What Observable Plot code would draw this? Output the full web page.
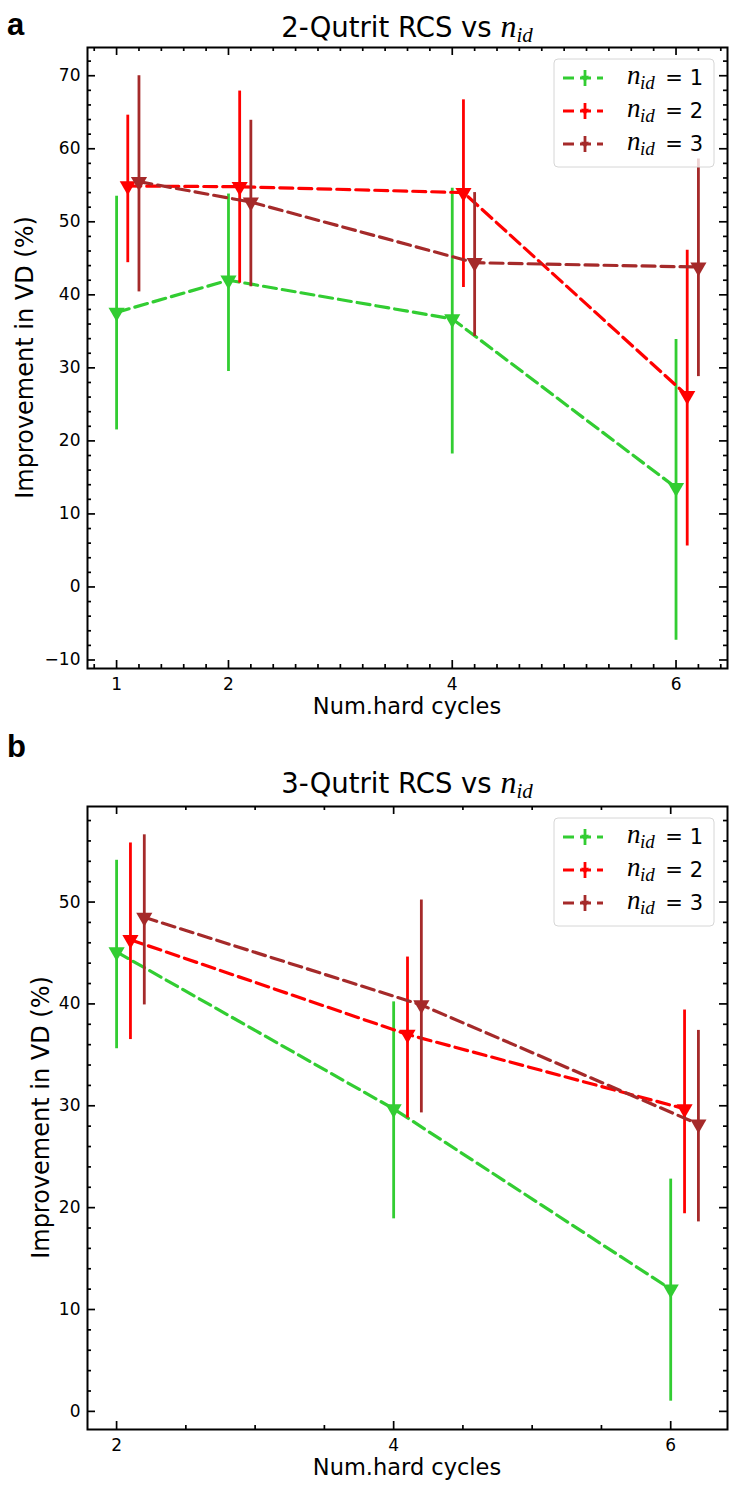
<!DOCTYPE html>
<html><head><meta charset="utf-8">
<script src="https://cdn.jsdelivr.net/npm/d3@7"></script>
<script src="https://cdn.jsdelivr.net/npm/@observablehq/plot@0.6"></script>
<style>
body{margin:0;background:#fff}
#wrap{position:relative;width:749px;height:1487px;overflow:hidden;background:#fff}
.panel{position:absolute;left:0}
#overlay{position:absolute;left:0;top:0;pointer-events:none}
</style>
</head><body><div id="wrap"></div>
<script>
// ---------- data ----------
const seriesIds = [1, 2, 3];
const seriesColors = ["#32cd32", "#ff0000", "#a52a2a"];

// Panel a: 2-Qutrit RCS
const aX1 = [1, 2, 4, 6];
const aX2 = [1.1, 2.1, 4.1, 6.1];
const aX3 = [1.2, 2.2, 4.2, 6.2];
const aY1 = [37.6, 42.0, 36.7, 13.6];
const aLo1 = [21.5, 29.5, 18.2, -7.3];
const aHi1 = [53.5, 53.8, 54.6, 33.9];
const aY2 = [54.9, 54.8, 54.0, 26.2];
const aLo2 = [44.4, 41.6, 41.0, 5.6];
const aHi2 = [64.6, 67.9, 66.7, 46.1];
const aY3 = [55.5, 52.7, 44.4, 43.8];
const aLo3 = [40.4, 41.1, 34.3, 28.8];
const aHi3 = [70.0, 63.9, 54.0, 58.6];

// Panel b: 3-Qutrit RCS
const bX1 = [2, 4, 6];
const bX2 = [2.1, 4.1, 6.1];
const bX3 = [2.2, 4.2, 6.2];
const bY1 = [45.1, 29.7, 12.0];
const bLo1 = [35.6, 18.9, 1.0];
const bHi1 = [54.1, 40.2, 22.8];
const bY2 = [46.3, 37.0, 29.7];
const bLo2 = [36.5, 28.8, 19.4];
const bHi2 = [55.8, 44.6, 39.4];
const bY3 = [48.5, 39.9, 28.2];
const bLo3 = [39.9, 29.3, 18.6];
const bHi3 = [56.6, 50.2, 37.4];

// tick labels
const aXTicks = [1, 2, 4, 6];
const aYTicks = [-10, 0, 10, 20, 30, 40, 50, 60, 70];
const bXTicks = [2, 4, 6];
const bYTicks = [0, 10, 20, 30, 40, 50];

const titleA = "2-Qutrit RCS vs ";
const titleB = "3-Qutrit RCS vs ";
const xLabel = "Num.hard cycles";
const yLabel = "Improvement in VD (%)";

// ---------- helpers ----------
function rows(xs, ys, los, his, s) {
  return xs.map((x, i) => ({x, y: ys[i], lo: los[i], hi: his[i], s}));
}
const dataA = [
  ...rows(aX1, aY1, aLo1, aHi1, 1),
  ...rows(aX2, aY2, aLo2, aHi2, 2),
  ...rows(aX3, aY3, aLo3, aHi3, 3)
];
const dataB = [
  ...rows(bX1, bY1, bLo1, bHi1, 1),
  ...rows(bX2, bY2, bLo2, bHi2, 2),
  ...rows(bX3, bY3, bLo3, bHi3, 3)
];
function padded(lo, hi) { const r = hi - lo; return [lo - 0.05 * r, hi + 0.05 * r]; }
const fmt = d => d < 0 ? "\u2212" + Math.abs(d) : String(d);
const near = (v, arr) => arr.some(a => Math.abs(a - v) < 1e-6);

function makePanel({data, height, mt, mb, xTicks, yTicks, xMinorStep, yMinorStep}) {
  const W = 749, ml = 87, mr = 22;
  const fw = W - ml - mr, fh = height - mt - mb;
  const xd = padded(d3.min(data, d => d.x), d3.max(data, d => d.x));
  const yd = padded(d3.min(data, d => d.lo), d3.max(data, d => d.hi));
  const xMinor = d3.range(Math.ceil(xd[0] / xMinorStep) * xMinorStep, xd[1], xMinorStep)
    .map(v => +v.toFixed(4)).filter(v => !near(v, xTicks) && v > xd[0] && v < xd[1]);
  const yMinor = d3.range(Math.ceil(yd[0] / yMinorStep) * yMinorStep, yd[1], yMinorStep)
    .map(v => +v.toFixed(4)).filter(v => !near(v, yTicks) && v > yd[0] && v < yd[1]);
  const tickStyle = {stroke: "black", strokeWidth: 1.7};
  const marks = [];
  seriesIds.forEach((s, i) => {
    const ds = data.filter(d => d.s === s);
    const c = seriesColors[i];
    marks.push(Plot.line(ds, {x: "x", y: "y", stroke: c, strokeWidth: 3.2, strokeDasharray: "13,6"}));
    marks.push(Plot.ruleX(ds, {x: "x", y1: "lo", y2: "hi", stroke: c, strokeWidth: 2.8}));
    marks.push(Plot.dot(ds, {x: "x", y: "y", symbol: "triangle", rotate: 180, r: 6, fill: c, stroke: "none"}));
  });
  // inward ticks on all four sides
  const tx = (vals, len) => [
    Plot.tickX(vals, {x: d => d, insetTop: fh - len, ...tickStyle}),
    Plot.tickX(vals, {x: d => d, insetBottom: fh - len, ...tickStyle})
  ];
  const ty = (vals, len) => [
    Plot.tickY(vals, {y: d => d, insetRight: fw - len, ...tickStyle}),
    Plot.tickY(vals, {y: d => d, insetLeft: fw - len, ...tickStyle})
  ];
  marks.push(...tx(xTicks, 8), ...tx(xMinor, 4), ...ty(yTicks, 8), ...ty(yMinor, 4));
  marks.push(Plot.frame({stroke: "black", strokeWidth: 2}));
  marks.push(Plot.axisX(xTicks, {anchor: "bottom", tickSize: 0, tickPadding: 9, label: null, tickFormat: fmt, fontSize: 17}));
  marks.push(Plot.axisY(yTicks, {anchor: "left", tickSize: 0, tickPadding: 7, label: null, tickFormat: fmt, fontSize: 17}));
  return Plot.plot({
    width: W, height, marginTop: mt, marginBottom: mb, marginLeft: ml, marginRight: mr,
    x: {domain: xd}, y: {domain: yd},
    style: {fontFamily: "DejaVu Sans", fontSize: "17px", color: "black", background: "transparent"},
    marks
  });
}

const wrap = document.getElementById("wrap");
const pa = makePanel({data: dataA, height: 745, mt: 47, mb: 77, xTicks: aXTicks, yTicks: aYTicks, xMinorStep: 0.2, yMinorStep: 2});
pa.classList.add("panel"); pa.style.top = "0px";
wrap.appendChild(pa);
const pb = makePanel({data: dataB, height: 742, mt: 61, mb: 58, xTicks: bXTicks, yTicks: bYTicks, xMinorStep: 0.5, yMinorStep: 2});
pb.classList.add("panel"); pb.style.top = "745px";
wrap.appendChild(pb);

// ---------- overlay text: panel letters, titles, axis labels, legends ----------
const ov = d3.select(wrap).append("svg").attr("id", "overlay").attr("width", 749).attr("height", 1487)
  .attr("font-family", "DejaVu Sans");

function panelText({letter, letterY, titleY, title, xLabelY, yLabelX, yCenter, legendTop}) {
  ov.append("text").attr("x", 7).attr("y", letterY).attr("font-family", "Liberation Sans")
    .attr("font-weight", "bold").attr("font-size", 31).text(letter);
  const t = ov.append("text").attr("x", 407).attr("y", titleY).attr("text-anchor", "middle").attr("font-size", 27.5);
  t.append("tspan").text(title);
  t.append("tspan").attr("font-family", "Liberation Serif").attr("font-style", "italic").attr("font-size", 32).text("n");
  t.append("tspan").attr("font-family", "Liberation Serif").attr("font-style", "italic").attr("font-size", 21).attr("dy", 5).text("id");
  ov.append("text").attr("x", 407).attr("y", xLabelY).attr("text-anchor", "middle").attr("font-size", 22.5).text(xLabel);
  ov.append("text").attr("transform", `translate(${yLabelX},${yCenter}) rotate(-90)`)
    .attr("text-anchor", "middle").attr("font-size", 24).text(yLabel);
  // legend
  const g = ov.append("g");
  g.append("rect").attr("x", 554).attr("y", legendTop).attr("width", 160).attr("height", 108).attr("rx", 4)
    .attr("fill", "white").attr("fill-opacity", 0.8).attr("stroke", "#d6d6d6").attr("stroke-width", 1);
  seriesIds.forEach((s, i) => {
    const cy = legendTop + 19 + i * 33;
    const c = seriesColors[i];
    g.append("line").attr("x1", 563).attr("x2", 603).attr("y1", cy).attr("y2", cy)
      .attr("stroke", c).attr("stroke-width", 3.2).attr("stroke-dasharray", "11,6");
    g.append("line").attr("x1", 585).attr("x2", 585).attr("y1", cy - 8).attr("y2", cy + 8)
      .attr("stroke", c).attr("stroke-width", 2.8);
    g.append("path").attr("d", d3.symbol(d3.symbolTriangle, 26)()).attr("fill", c)
      .attr("transform", `translate(585,${cy}) rotate(180)`);
    g.append("text").attr("x", 627).attr("y", cy + 6).attr("font-family", "Liberation Serif")
      .attr("font-style", "italic").attr("font-size", 27).text("n");
    g.append("text").attr("x", 640).attr("y", cy + 11).attr("font-family", "Liberation Serif")
      .attr("font-style", "italic").attr("font-size", 19).text("id");
    g.append("text").attr("x", 703).attr("y", cy + 7).attr("text-anchor", "end").attr("font-size", 21).text("= " + s);
  });
}
panelText({letter: "a", letterY: 35, titleY: 37, title: titleA, xLabelY: 714, yLabelX: 33, yCenter: 357.5, legendTop: 59});
panelText({letter: "b", letterY: 757, titleY: 793, title: titleB, xLabelY: 1475, yLabelX: 49, yCenter: 1117.5, legendTop: 818});
</script>
</body></html>
